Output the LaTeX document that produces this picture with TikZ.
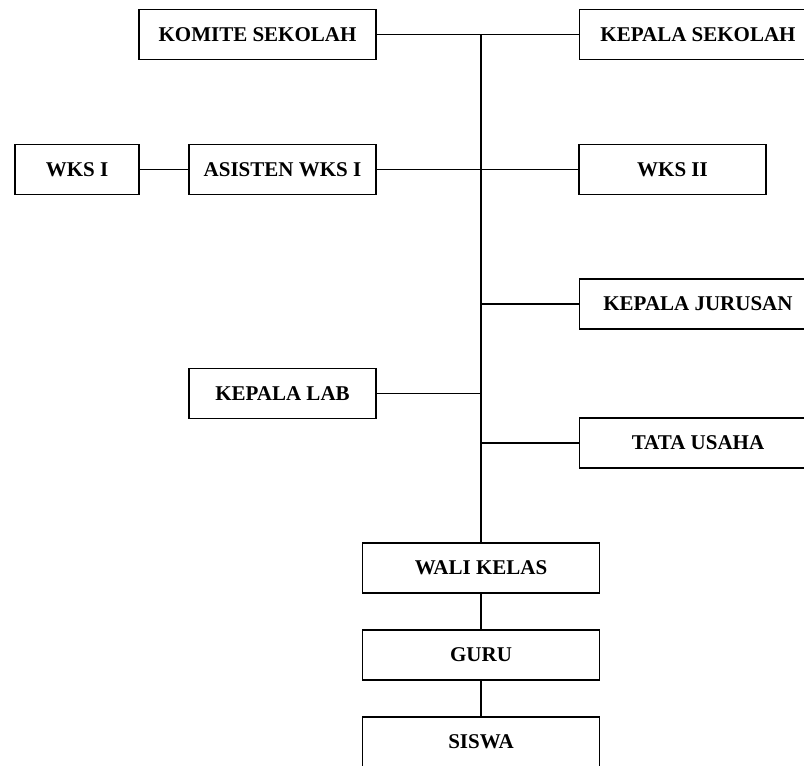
\documentclass[tikz,border=0pt]{standalone}
\usepackage{fontspec}
\setmainfont{Liberation Serif}
\begin{document}
\begin{tikzpicture}[x=1pt,y=-1pt,
  unit/.style={draw, line width=1.1pt, rectangle, minimum height=50pt,
    inner sep=0pt, font=\fontsize{21}{25}\selectfont\bfseries},
  wide/.style={unit, minimum width=237pt},
  mid/.style={unit, minimum width=187pt},
  small/.style={unit, minimum width=124pt},
  link/.style={line width=1.1pt}]
\useasboundingbox (0,0) rectangle (804,766);
\clip (0,0) rectangle (804,766);

% top row
\node[wide] (komite)  at (257.5,34.5) {KOMITE SEKOLAH};
\node[wide] (kepsek)  at (698,34.5)   {KEPALA SEKOLAH};
% second row
\node[small] (wks1)   at (77,169.5)   {WKS I};
\node[mid] (asisten)  at (282.5,169.5) {ASISTEN WKS I};
\node[mid] (wks2)     at (672.5,169.5) {WKS II};
% side units on the trunk
\node[wide] (kajur)   at (698,304)    {KEPALA JURUSAN};
\node[mid] (kalab)    at (282.5,393.5) {KEPALA LAB};
\node[wide] (tu)      at (698,443)    {TATA USAHA};
% bottom chain
\node[wide] (wali)    at (481,568)    {WALI KELAS};
\node[wide] (guru)    at (481,655)    {GURU};
\node[wide] (siswa)   at (481,742)    {SISWA};

% main trunk
\coordinate (top) at (481,34.5);
\draw[link] (komite.east) -- (kepsek.west);
\draw[link] (top) -- (wali.north);
\draw[link] (wks1.east) -- (asisten.west);
\draw[link] (asisten.east) -- (wks2.west);
\draw[link] (kajur.west) -- (kajur.west -| top);
\draw[link] (kalab.east) -- (kalab.east -| top);
\draw[link] (tu.west) -- (tu.west -| top);
\draw[link] (wali.south) -- (guru.north);
\draw[link] (guru.south) -- (siswa.north);
\end{tikzpicture}
\end{document}
